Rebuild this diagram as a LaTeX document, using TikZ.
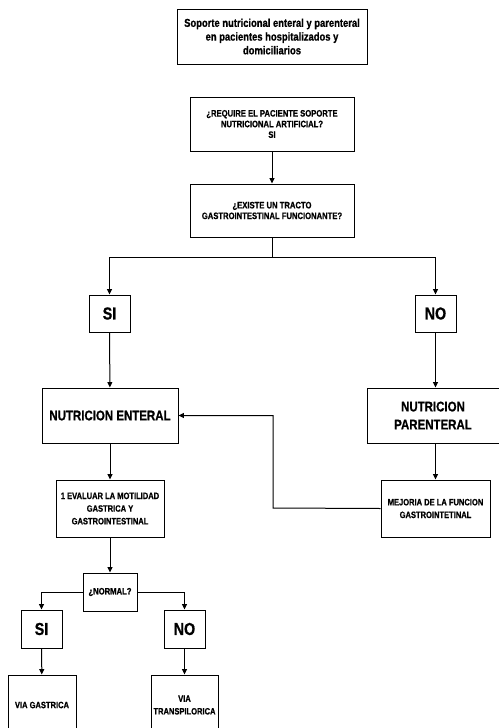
\documentclass[tikz,border=0pt]{standalone}
\usepackage{fontspec}
\setmainfont[FakeStretch=0.82, BoldFeatures={FakeBold=0.8}]{Liberation Sans}
\usetikzlibrary{arrows.meta}
\begin{document}
\begin{tikzpicture}[x=0.75pt,y=-0.75pt,
  every node/.style={font=\bfseries},
  box/.style 2 args={draw, line width=0.75pt, align=center, inner sep=1pt,
    minimum width=#1*0.75pt, minimum height=#2*0.75pt},
  link/.style={line width=0.75pt},
  arr/.style={link, -{Triangle[length=4pt,width=3.6pt]}},
  ftitle/.style={font=\bfseries\fontsize{8.6}{10.3}\selectfont},
  fq/.style={font=\bfseries\fontsize{7}{8}\selectfont},
  fsmall/.style={font=\bfseries\fontsize{6.9}{9.5}\selectfont},
  fbig/.style={font=\bfseries\fontsize{10.5}{13.5}\selectfont},
  fhuge/.style={font=\bfseries\fontsize{13}{15}\selectfont}]
\useasboundingbox (0,0) rectangle (499,728);
\clip (0,0) rectangle (499,728);

% top of the chart
\node[box={190}{55}, ftitle] (title) at (272,36.5)
  {Soporte nutricional enteral y parenteral\\en pacientes hospitalizados y\\domiciliarios};
\node[box={164}{54}, fq] (req) at (272,124)
  {¿REQUIRE EL PACIENTE SOPORTE\\NUTRICIONAL ARTIFICIAL?\\SI};
\node[box={164}{53}, fq] (exist) at (272,210.5)
  {¿EXISTE UN TRACTO\\GASTROINTESTINAL FUNCIONANTE?};

% first decision
\node[box={41}{37}, fhuge] (si1) at (109.5,313.5) {SI};
\node[box={41}{37}, fhuge] (no1) at (435.5,313.5) {NO};
\node[box={136}{55}, fbig] (enteral) at (110,415.5) {NUTRICION ENTERAL};
\node[box={132}{55}, fbig] (parenteral) at (433,415.5) {NUTRICION\\PARENTERAL};
\node[box={108}{57}, fsmall] (evaluar) at (110,508.5)
  {1 EVALUAR LA MOTILIDAD\\GASTRICA Y\\GASTROINTESTINAL};
\node[box={109}{57}, fsmall] (mejoria) at (435.5,508.5)
  {MEJORIA DE LA FUNCION\\GASTROINTETINAL};

% gastric motility branch
\node[box={54}{38}, fq] (normal) at (110,592) {¿NORMAL?};
\node[box={41}{38}, fhuge] (si2) at (41.5,629) {SI};
\node[box={41}{38}, fhuge] (no2) at (184.5,629) {NO};
\node[box={68}{60}, fsmall] (gastrica) at (42,705) {VIA GASTRICA};
\node[box={67}{60}, fsmall] (transp) at (184.5,705) {VIA\\TRANSPILORICA};

% connectors
\coordinate (split) at (272,257);
\coordinate (back) at (273,508);
\draw[arr] (req) -- (exist);
\draw[link] (exist) -- (split);
\draw[arr] (split) -| (si1);
\draw[arr] (split) -| (no1);
\draw[arr] (si1) -- (enteral);
\draw[arr] (no1.south) -- (no1.south |- parenteral.north);
\draw[arr] (enteral) -- (evaluar);
\draw[arr] (no1.south |- parenteral.south) -- (mejoria.north);
\draw[arr] (evaluar) -- (normal);
\draw[arr] (normal.west) -| (si2.north);
\draw[arr] (normal.east) -| (no2.north);
\draw[arr] (si2) -- (gastrica);
\draw[arr] (no2) -- (transp);
\draw[arr] (mejoria.west) -- (back) |- (enteral.east);
\end{tikzpicture}
\end{document}
